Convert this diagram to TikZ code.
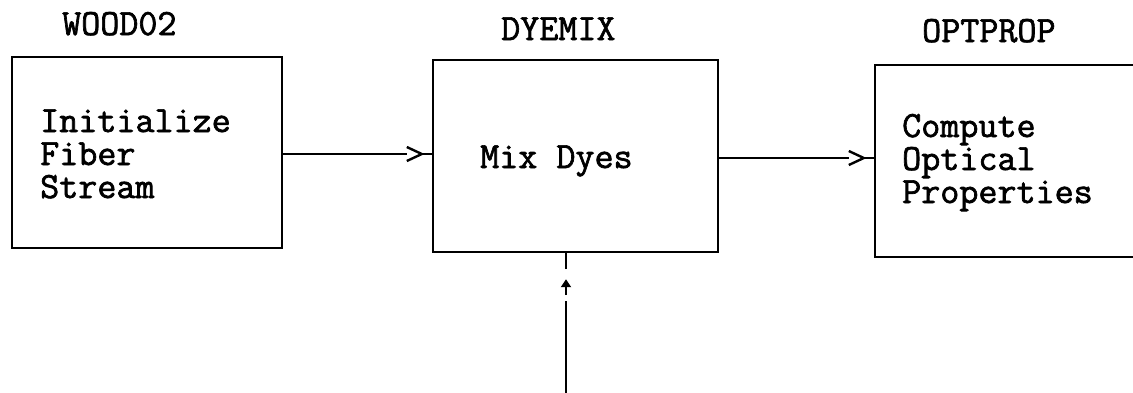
\documentclass[tikz,border=0pt]{standalone}
\usepackage{fontspec}
\setmonofont[FakeBold=1.8]{Latin Modern Mono}
\usetikzlibrary{calc,arrows.meta}
\tikzset{
  box/.style={draw, line width=2.4pt, inner sep=0pt, rectangle},
  conn/.style={line width=2.4pt},
  lbl/.style={font=\ttfamily\fontsize{37}{33}\selectfont, inner sep=0pt, anchor=base west, align=left},
}
\begin{document}
\begin{tikzpicture}[x=1pt,y=-1pt]
\useasboundingbox (0,0) rectangle (1133,392);
\clip (0,0) rectangle (1133,392);
% boxes
\node[box, minimum width=270pt, minimum height=191pt] (b1) at (147,152.5) {};
\node[box, minimum width=285pt, minimum height=192pt] (b2) at (575.5,156) {};
\node[box, minimum width=300pt, minimum height=192pt] (b3) at (1025,161) {};
% titles
\node[lbl] (t1) at (62,35) {WOOD02};
\node[lbl] (t2) at (501,40) {DYEMIX};
\node[lbl] (t3) at (922,42) {OPTPROP};
% box texts (base anchor = last line)
\node[lbl] (x1) at (40,198) {Initialize\\Fiber\\Stream};
\node[lbl] (x2) at (480,168) {Mix Dyes};
\node[lbl] (x3) at (902,203) {Compute\\Optical\\Properties};
% connector rows
\coordinate (y1) at (0,154);
\coordinate (y2) at (0,158);
\coordinate (src) at (566,400);
% arrow 1
\draw[conn] (b1.east |- y1) -- ($(b2.west |- y1)+(-25,0)$);
\draw[conn] ($(b2.west |- y1)+(-25,-7)$) -- ($(b2.west |- y1)+(-10,0)$) -- ($(b2.west |- y1)+(-25,7)$);
\draw[conn] ($(b2.west |- y1)+(-9,0)$) -- (b2.west |- y1);
% arrow 2
\draw[conn] (b2.east |- y2) -- ($(b3.west |- y2)+(-25,0)$);
\draw[conn] ($(b3.west |- y2)+(-25,-7)$) -- ($(b3.west |- y2)+(-10,0)$) -- ($(b3.west |- y2)+(-25,7)$);
\draw[conn] ($(b3.west |- y2)+(-9,0)$) -- (b3.west |- y2);
% arrow from below
\draw[conn] (src) -- ($(b2.south -| src)+(0,48)$);
\draw[conn, -{Triangle[length=8pt,width=10pt]}] ($(b2.south -| src)+(0,42)$) -- ($(b2.south -| src)+(0,26)$);
\draw[conn] ($(b2.south -| src)+(0,16)$) -- (b2.south -| src);
\end{tikzpicture}
\end{document}
